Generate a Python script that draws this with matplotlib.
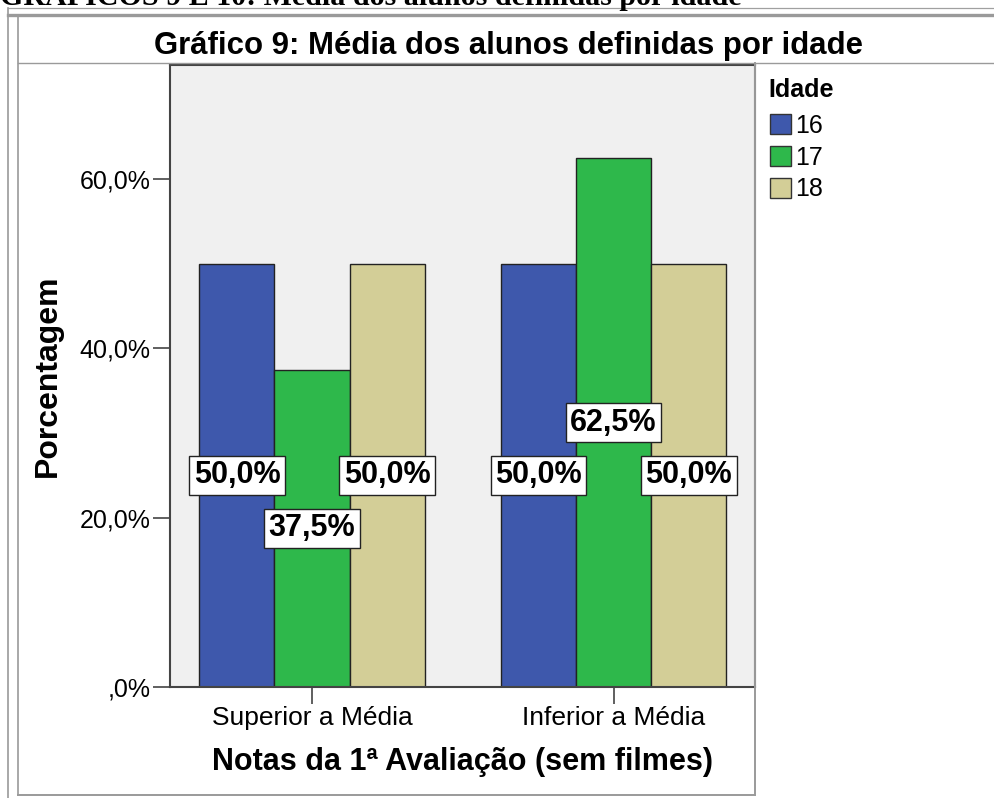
import numpy as np
import matplotlib
matplotlib.use("Agg")
import matplotlib.pyplot as plt
from matplotlib.lines import Line2D
from matplotlib.patches import Patch

plt.rcParams['font.family'] = ['Liberation Sans', 'DejaVu Sans']

# ----------------------
# Data
# ----------------------
categories = ["Superior a Média", "Inferior a Média"]
ages = ["16", "17", "18"]
values = {
    "16": [50.0, 50.0],
    "17": [37.5, 62.5],
    "18": [50.0, 50.0],
}
yticks = [0, 20, 40, 60]
colors = ["#3e58ac", "#2eb84b", "#d3ce97"]

W, H = 994, 798


def fx(x):
    return x / W


def fy(y):
    return 1 - y / H


def hline(fig, y, x0, x1, color="#888888", lw=1.2):
    fig.add_artist(Line2D([fx(x0), fx(x1)], [fy(y), fy(y)], color=color, lw=lw))


def vline(fig, x, y0, y1, color="#888888", lw=1.2):
    fig.add_artist(Line2D([fx(x), fx(x)], [fy(y0), fy(y1)], color=color, lw=lw))


def pct(t):
    s = f"{t:.1f}%".replace(".", ",")
    return s[1:] if t == 0 else s


fig = plt.figure(figsize=(W / 100, H / 100), dpi=100)

# document header, cut off at the top
fig.text(fx(0), fy(5), "GRÁFICOS 9 E 10: Média dos alunos definidas por idade",
         family="Liberation Serif", fontweight="bold", fontsize=21.6,
         ha="left", va="baseline")

# frame lines
hline(fig, 7.5, 8, W, color="#a0a0a0", lw=0.9)
hline(fig, 14.5, 8, W, color="#9a9a9a", lw=2.4)
vline(fig, 8, 7.5, H, color="#9a9a9a", lw=1.2)
vline(fig, 18, 16, 795, color="#9a9a9a", lw=1.2)
hline(fig, 63, 18, W, color="#9a9a9a", lw=1.0)
hline(fig, 795, 18, 755, color="#9a9a9a", lw=1.4)
vline(fig, 755, 63, 795, color="#9a9a9a", lw=1.4)

fig.text(fx(508), fy(46), "Gráfico 9: Média dos alunos definidas por idade",
         fontsize=22.4, fontweight="bold", ha="center", va="center")

ax = fig.add_axes([fx(170), fy(687), fx(755 - 170), (687 - 65) / H])
ax.set_facecolor("#f0f0f0")

x = np.arange(len(categories))
width = 0.249
for i, age in enumerate(ages):
    pos = x + (i - 1) * width
    ax.bar(pos, values[age], width, color=colors[i], edgecolor="#222222",
           linewidth=1.0, zorder=2, label=age)
    for xp, v in zip(pos, values[age]):
        ax.text(xp, v / 2, pct(v), ha="center",
                va="center", fontsize=22, fontweight="bold", zorder=4,
                bbox=dict(boxstyle="square,pad=0.15", fc="white",
                          ec="#222222", lw=1.0))

ax.set_xlim(-0.471, 1.469)
ax.set_ylim(0, 73.5)
ax.set_xticks(x)
ax.set_xticklabels(categories, fontsize=19)
ax.set_yticks(yticks)
ax.set_yticklabels([pct(t) for t in yticks], fontsize=18)
ax.tick_params(axis="both", length=12, width=1.2, color="#444444")
ax.tick_params(axis="x", pad=2)
ax.tick_params(axis="y", pad=2)
for s in ax.spines.values():
    s.set_color("#444444")
    s.set_linewidth(1.5)

ax.set_ylabel("Porcentagem", fontsize=23, fontweight="bold", labelpad=12)
ax.set_xlabel("Notas da 1ª Avaliação (sem filmes)", fontsize=22,
              fontweight="bold", labelpad=12)

# legend
fig.text(fx(768), fy(90), "Idade", fontsize=18, fontweight="bold",
         ha="left", va="center")
handles = [Patch(facecolor=c, edgecolor="#333333", lw=1.0) for c in colors]
fig.legend(handles, ages, loc="upper left",
           bbox_to_anchor=(fx(770), fy(114)), frameon=False,
           fontsize=18, handlelength=0.85, handleheight=0.85,
           handletextpad=0.15, labelspacing=0.31,
           borderaxespad=0, borderpad=0)

fig.savefig("out.png", dpi=100)
